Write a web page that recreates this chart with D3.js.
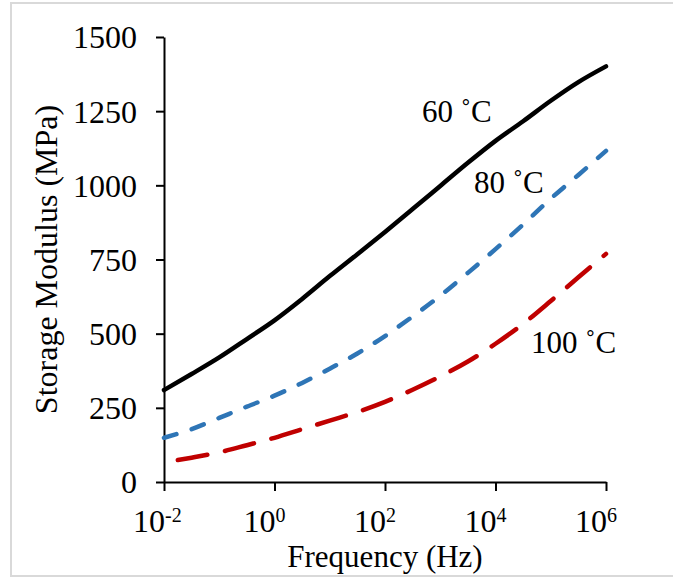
<!DOCTYPE html>
<html>
<head>
<meta charset="utf-8">
<script src="https://cdn.jsdelivr.net/npm/d3@7"></script>
<style>
  body { margin: 0; background: #fff; }
</style>
</head>
<body>
<svg id="chart" width="673" height="577"></svg>
<script>
// frequency (Hz) at half-decade steps
let freq = [0.01, 0.0316, 0.1, 0.316, 1, 3.16, 10, 31.6, 100, 316, 1000, 3162, 10000, 31623, 100000, 316228, 1000000];
let freqRed = [0.0178, 0.0316, 0.1, 0.316, 1, 3.16, 10, 31.6, 100, 316, 1000, 3162, 10000, 31623, 100000, 316228, 1000000];

// storage modulus (MPa)
let mod60 = [310, 364, 420, 482, 545, 617, 694, 768, 843, 920, 998, 1076, 1150, 1216, 1285, 1348, 1401];
let mod80 = [149, 178, 216, 254, 291, 334, 382, 433, 492, 558, 628, 705, 785, 868, 955, 1035, 1116];
let mod100 = [74, 82, 100, 124, 149, 178, 207, 236, 270, 311, 356, 406, 466, 533, 610, 690, 769];

let yTicks = [0, 250, 500, 750, 1000, 1250, 1500];
let xTicks = [0.01, 1, 100, 10000, 1000000];
let xTickExp = ["-2", "0", "2", "4", "6"];

let seriesLabels = ["60 \u02DAC", "80 \u02DAC", "100 \u02DAC"];

let serif = "'Liberation Serif', 'Times New Roman', Times, serif";

let svg = d3.select("#chart");

// light frame round the picture
svg.append("rect")
	.attr("x", 11).attr("y", 3)
	.attr("width", 670).attr("height", 573)
	.attr("fill", "none")
	.attr("stroke", "#d9d9d9")
	.attr("stroke-width", 2);

let plotLeft = 164, plotRight = 606, plotTop = 37, plotBottom = 482;

let xScale = d3.scaleLog().domain([0.01, 1000000]).range([plotLeft, plotRight]);
let yScale = d3.scaleLinear().domain([0, 1500]).range([plotBottom, plotTop]);

// y axis
let yAxis = svg.append("g")
	.attr("transform", "translate(" + plotLeft + ",0)")
	.call(d3.axisLeft(yScale).tickValues(yTicks).tickSize(8).tickSizeOuter(0).tickFormat(d3.format("d")));
yAxis.select(".domain").attr("stroke", "#000").attr("stroke-width", 2);
yAxis.selectAll(".tick line").attr("stroke", "#000").attr("stroke-width", 2);
yAxis.selectAll(".tick text")
	.attr("x", -27)
	.attr("dy", "0.34em")
	.attr("fill", "#000")
	.style("font-family", serif)
	.style("font-size", "32px");

// x axis
let xAxis = svg.append("g")
	.attr("transform", "translate(0," + plotBottom + ")")
	.call(d3.axisBottom(xScale).tickValues(xTicks).tickSize(9).tickSizeOuter(0).tickFormat(""));
xAxis.select(".domain").attr("stroke", "#000").attr("stroke-width", 2);
xAxis.selectAll(".tick line").attr("stroke", "#000").attr("stroke-width", 2);

let xLab = svg.append("g").selectAll("text")
	.data(xTicks)
	.join("text")
	.attr("x", d => xScale(d) - 31)
	.attr("y", 532)
	.attr("text-anchor", "start")
	.style("font-family", serif)
	.style("font-size", "32px");
xLab.append("tspan").text("10");
xLab.append("tspan")
	.attr("dy", -10)
	.style("font-size", "20px")
	.text((d, i) => xTickExp[i]);

// axis titles
svg.append("text")
	.attr("x", (plotLeft + plotRight) / 2)
	.attr("y", 567)
	.attr("text-anchor", "middle")
	.style("font-family", serif)
	.style("font-size", "31px")
	.text("Frequency (Hz)");

svg.append("text")
	.attr("transform", "translate(57," + (plotTop + plotBottom) / 2 + ") rotate(-90)")
	.attr("text-anchor", "middle")
	.style("font-family", serif)
	.style("font-size", "32px")
	.text("Storage Modulus (MPa)");

// curves
let line = d3.line()
	.x(d => xScale(d[0]))
	.y(d => yScale(d[1]))
	.curve(d3.curveMonotoneX);

let series = [
	{ f: freq, v: mod60, color: "#000000", dash: null },
	{ f: freq, v: mod80, color: "#2e75b6", dash: "13,16" },
	{ f: freqRed, v: mod100, color: "#c00000", dash: "30,18" }
];

svg.append("g").selectAll("path")
	.data(series)
	.join("path")
	.attr("d", s => line(d3.zip(s.f, s.v)))
	.attr("fill", "none")
	.attr("stroke", s => s.color)
	.attr("stroke-width", 4.5)
	.attr("stroke-linecap", "round")
	.attr("stroke-linejoin", "round")
	.attr("stroke-dasharray", s => s.dash);

// series labels
let labelPos = [[422, 122], [474, 193], [531, 353]];
svg.append("g").selectAll("text")
	.data(seriesLabels)
	.join("text")
	.attr("x", (d, i) => labelPos[i][0])
	.attr("y", (d, i) => labelPos[i][1])
	.style("font-family", serif)
	.style("font-size", "31px")
	.text(d => d);
</script>
</body>
</html>
